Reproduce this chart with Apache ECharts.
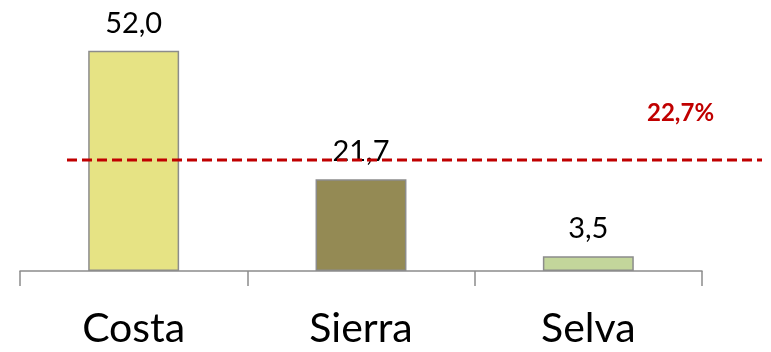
<!DOCTYPE html>
<html>
<head>
<meta charset="utf-8">
<script src="https://cdn.jsdelivr.net/npm/echarts@6/dist/echarts.min.js"></script>
<style>html,body{margin:0;padding:0;background:#fff}#c{width:771px;height:352px}</style>
</head>
<body>
<div id="c"></div>
<script>
var categories = ['Costa', 'Sierra', 'Selva'];
var values = [52.0, 21.7, 3.5];
var barColors = ['#e6e384', '#948a54', '#c3d69b'];
var refLineValue = 26.2;
var refLineLabel = '22,7%';

var chart = echarts.init(document.getElementById('c'), null, {renderer: 'canvas'});
var fmt = function (v) { return v.toFixed(1).replace('.', ','); };
var font = 'Lato, "Open Sans", sans-serif';
chart.setOption({
  animation: false,
  title: {
    text: refLineLabel,
    left: 647, top: 101,
    textStyle: {color: '#c00000', fontWeight: 'bold', fontSize: 24, fontFamily: font},
    padding: 0
  },
  grid: [
    {left: 20, right: 69, top: 17, height: 254},
    {left: 67, right: 9, top: 17, height: 254}
  ],
  xAxis: [
    {
      type: 'category', gridIndex: 0, data: categories,
      axisLine: {lineStyle: {color: '#8c8c8c', width: 1.5}},
      axisTick: {show: true, length: 15, lineStyle: {color: '#8c8c8c', width: 1.5}},
      axisLabel: {color: '#000', fontSize: 41, fontFamily: font, margin: 37}
    },
    {type: 'value', gridIndex: 1, min: 0, max: 1, show: false}
  ],
  yAxis: [
    {type: 'value', gridIndex: 0, min: 0, max: 60, show: false, splitLine: {show: false}},
    {type: 'value', gridIndex: 1, min: 0, max: 60, show: false, splitLine: {show: false}}
  ],
  series: [
    {
      type: 'bar', xAxisIndex: 0, yAxisIndex: 0,
      barWidth: '40%',
      data: values.map(function (v, i) {
        return {value: v, itemStyle: {color: barColors[i]}};
      }),
      itemStyle: {borderColor: '#8c8c8c', borderWidth: 1.5},
      label: {
        show: true, position: 'top', distance: 13,
        color: '#000', fontSize: 29, fontFamily: font,
        formatter: function (p) { return fmt(p.value); }
      },
      z: 2
    },
    {
      type: 'line', xAxisIndex: 1, yAxisIndex: 1,
      data: [[0, refLineValue], [1, refLineValue]],
      symbol: 'none',
      lineStyle: {color: '#c00000', width: 3, type: [10, 5]},
      z: 3
    }
  ]
});
</script>
</body>
</html>
